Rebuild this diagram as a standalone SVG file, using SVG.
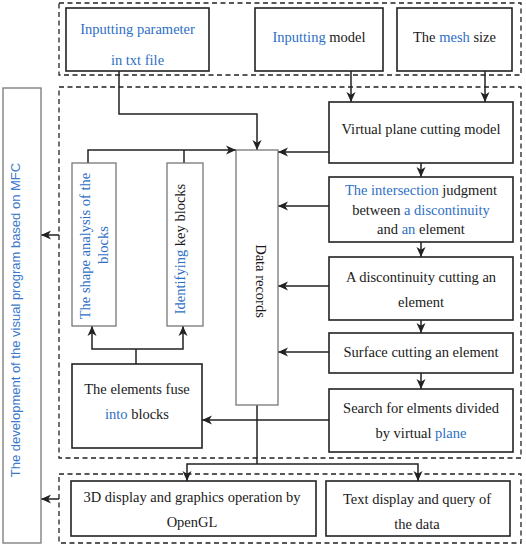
<svg xmlns="http://www.w3.org/2000/svg" width="526" height="546" viewBox="0 0 526 546" font-family="Liberation Serif, Times New Roman, serif">
<style>
.bg{fill:#ffffff}
.box{fill:#ffffff;stroke:#222;stroke-width:1.6}
.gbox{fill:#ffffff;stroke:#777;stroke-width:1.3}
.dash{fill:none;stroke:#222;stroke-width:1.3;stroke-dasharray:5 3.5}
.t{font-family:'Liberation Serif','Times New Roman',Times,serif;font-size:14.5px;fill:#1a1a1a;text-anchor:middle}
.b{fill:#2e6fc4}
.s{font-family:'Liberation Sans',Arial,sans-serif;font-size:13px;fill:#3a78cc;text-anchor:middle}
.c{fill:none;stroke:#222;stroke-width:1.5}
.ca{fill:none;stroke:#222;stroke-width:1.5;marker-end:url(#ah)}
</style>
<defs>
<marker id="ah" markerUnits="userSpaceOnUse" markerWidth="11" markerHeight="10" refX="10" refY="4.5" orient="auto" viewBox="0 0 11 9">
<path d="M0,0 L10,4.5 L0,9 L2.8,4.5 z" fill="#222"/>
</marker>
</defs>
<rect class="bg" x="0" y="0" width="526" height="546"/>

<g id="regions">
<rect class="dash" x="59" y="3" width="462" height="72"/>
<rect class="dash" x="59" y="87" width="462" height="371"/>
<rect class="dash" x="59" y="474" width="462" height="69"/>
</g>

<g id="connectors">
<path class="ca" d="M119,71 V114 H257 V150"/>
<path class="ca" d="M351,71 V102"/>
<path class="ca" d="M485,71 V102"/>
<path class="ca" d="M329,152 H278"/>
<path class="ca" d="M329,206 H278"/>
<path class="ca" d="M329,286 H278"/>
<path class="ca" d="M329,352 H278"/>
<path class="ca" d="M329,420 H202"/>
<path class="ca" d="M421,163 V177"/>
<path class="ca" d="M421,242 V257"/>
<path class="ca" d="M421,320 V333"/>
<path class="ca" d="M421,373 V389"/>
<path class="ca" d="M88,163 V150 H236"/>
<path class="c" d="M184,163 V150"/>
<path class="c" d="M136,364 V349"/>
<path class="ca" d="M136,349 H92 V326"/>
<path class="ca" d="M136,349 H183 V326"/>
<path class="c" d="M257,405 V464"/>
<path class="ca" d="M257,464 H187 V481"/>
<path class="ca" d="M257,464 H418 V481"/>
<path class="ca" d="M59,235 H41"/>
<path class="ca" d="M59,499 H41"/>
</g>

<g id="n-input-param">
<rect class="box" x="66" y="8" width="143" height="63"/>
<text class="t b" x="137.5" y="34">Inputting parameter</text>
<text class="t b" x="137.5" y="65">in txt file</text>
</g>
<g id="n-input-model">
<rect class="box" x="255" y="8" width="128" height="63"/>
<text class="t" x="319" y="42"><tspan class="b">Inputting</tspan> model</text>
</g>
<g id="n-mesh">
<rect class="box" x="397" y="8" width="115" height="63"/>
<text class="t" x="454.5" y="42">The <tspan class="b">mesh</tspan> size</text>
</g>

<g id="n-mfc">
<rect class="gbox" x="3" y="88" width="38" height="455"/>
<text class="s" transform="translate(20,320) rotate(-90)">The development of the visual program based on MFC</text>
</g>

<g id="n-virtual">
<rect class="box" x="329" y="102" width="184" height="61"/>
<text class="t" x="421" y="134">Virtual plane cutting model</text>
</g>
<g id="n-intersection">
<rect class="box" x="329" y="177" width="184" height="65"/>
<text class="t" x="421" y="195"><tspan class="b">The intersection</tspan> judgment</text>
<text class="t" x="421" y="214.5">between <tspan class="b">a discontinuity</tspan></text>
<text class="t" x="421" y="234">and <tspan class="b">an</tspan> element</text>
</g>
<g id="n-disc-cut">
<rect class="box" x="329" y="257" width="184" height="63"/>
<text class="t" x="421" y="282">A discontinuity cutting an</text>
<text class="t" x="421" y="307">element</text>
</g>
<g id="n-surface">
<rect class="box" x="329" y="333" width="184" height="40"/>
<text class="t" x="421" y="357">Surface cutting an element</text>
</g>
<g id="n-search">
<rect class="box" x="329" y="389" width="184" height="63"/>
<text class="t" x="421" y="413">Search for elments divided</text>
<text class="t" x="421" y="438">by virtual <tspan class="b">plane</tspan></text>
</g>

<g id="n-data">
<rect class="gbox" x="236" y="150" width="42" height="255"/>
<text class="t" transform="translate(256,281) rotate(90)">Data records</text>
</g>
<g id="n-shape">
<rect class="gbox" x="72" y="163" width="44" height="163"/>
<text class="t b" transform="translate(90,246) rotate(-90)">The shape analysis of the</text>
<text class="t b" transform="translate(108,245) rotate(-90)">blocks</text>
</g>
<g id="n-identify">
<rect class="gbox" x="167" y="163" width="36" height="163"/>
<text class="t" transform="translate(185,249) rotate(-90)"><tspan class="b">Identifying</tspan> key blocks</text>
</g>
<g id="n-fuse">
<rect class="box" x="72" y="364" width="130" height="84"/>
<text class="t" x="137" y="394">The elements fuse</text>
<text class="t" x="137" y="419"><tspan class="b">into</tspan> blocks</text>
</g>

<g id="n-3d">
<rect class="box" x="71" y="481" width="245" height="55"/>
<text class="t" x="192" y="502">3D display and graphics operation by</text>
<text class="t" x="192" y="527">OpenGL</text>
</g>
<g id="n-text">
<rect class="box" x="326" y="481" width="184" height="55"/>
<text class="t" x="417" y="504">Text display and query of</text>
<text class="t" x="417" y="529">the data</text>
</g>
</svg>
